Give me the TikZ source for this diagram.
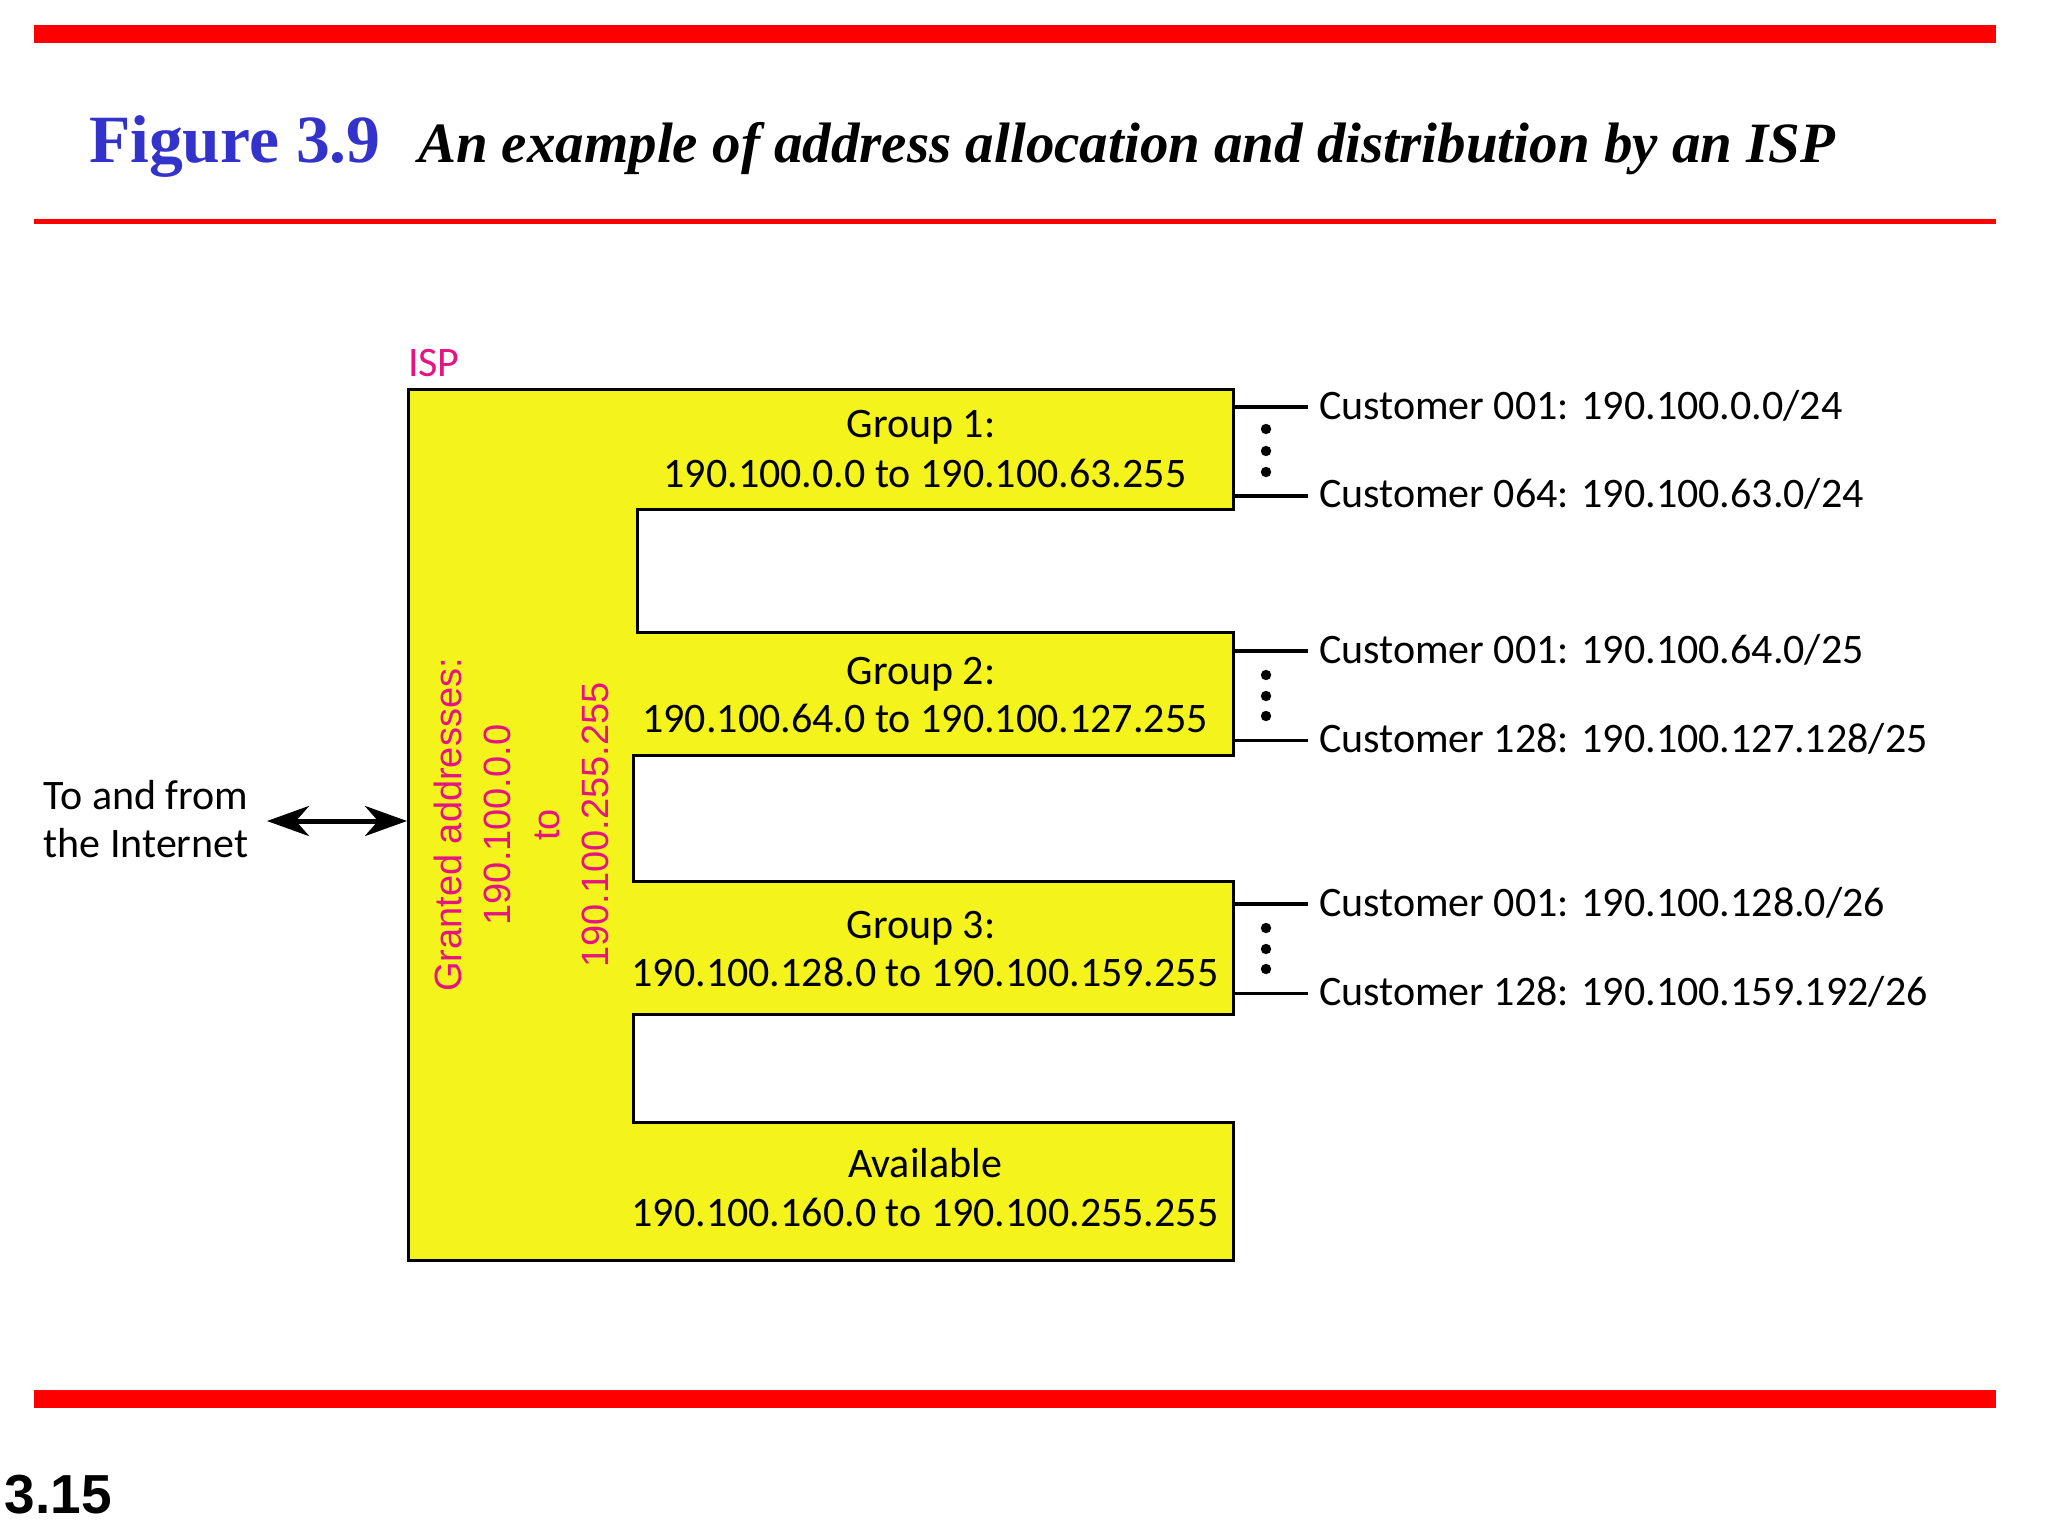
\documentclass[tikz,border=0pt]{standalone}
\usepackage{fontspec}
\setmainfont{Liberation Serif}
\newfontfamily\myr{Carlito}
\newfontfamily\arl{Liberation Sans}
\usetikzlibrary{arrows.meta}
\definecolor{figblue}{RGB}{51,51,204}
\definecolor{ispmag}{RGB}{230,20,130}
\definecolor{ispyel}{RGB}{244,244,28}
\begin{document}
\begin{tikzpicture}[x=1pt,y=-1pt,
  every node/.style={inner sep=0pt,outer sep=0pt},
  lbl/.style={font={\myr\fontsize{42}{50}\selectfont}},
  cust/.style={lbl,anchor=base west},
  grp/.style={lbl,anchor=base},
  redbar/.style={fill=red},
  wire/.style={line width=3.6pt},
  dot/.style={fill=black}]
\useasboundingbox (0,0) rectangle (2048,1536);
% red rules
\fill[redbar] (34,25) rectangle (1996,43);
\fill[redbar] (34,218.5) rectangle (1996,224);
\fill[redbar] (34,1390) rectangle (1996,1408);
% title
\node[anchor=base west,text=figblue,font={\bfseries\fontsize{67.6}{80}\selectfont}] (fignum) at (89,162) {Figure 3.9};
\node[anchor=base west,font={\bfseries\itshape\fontsize{57}{68}\selectfont}] (figtitle) at (418,162) {An example of address allocation and distribution by an ISP};
% ISP shape
\draw[line width=3pt,fill=ispyel,line join=miter]
  (408,389) -- (1233,389) -- (1233,509) -- (637,509) -- (637,632) -- (1233,632)
  -- (1233,755) -- (633,755) -- (633,881) -- (1233,881) -- (1233,1014)
  -- (633,1014) -- (633,1122) -- (1233,1122) -- (1233,1260) -- (408,1260) -- cycle;
\node[anchor=base west,text=ispmag,font={\myr\fontsize{42}{50}\selectfont}] (isp) at (408,376) {ISP};
% vertical label
\node[rotate=90,align=center,text=ispmag,font={\arl\fontsize{38}{49}\selectfont}] (granted) at (521,825)
  {Granted addresses:\\190.100.0.0\\to\\190.100.255.255};
% group texts
\node[grp] (g1a) at (921,437) {Group 1:};
\node[grp] (g1b) at (925,487) {190.100.0.0 to 190.100.63.255};
\node[grp] (g2a) at (921,684) {Group 2:};
\node[grp] (g2b) at (925,732) {190.100.64.0 to 190.100.127.255};
\node[grp] (g3a) at (921,938) {Group 3:};
\node[grp] (g3b) at (925,986) {190.100.128.0 to 190.100.159.255};
\node[grp] (ava) at (925,1177) {Available};
\node[grp] (avb) at (925,1226) {190.100.160.0 to 190.100.255.255};
% internet
\node[grp] (inA) at (146,809) {To and from};
\node[grp] (inB) at (146,857) {the Internet};
\coordinate (arrL) at (267,821);
\coordinate (arrR) at (407,821);
\draw[line width=5pt,{Stealth[length=42pt,width=30pt,inset=13pt]}-{Stealth[length=42pt,width=30pt,inset=13pt]}] (arrL) -- (arrR);
% customers
\foreach \nm/\y in {c1a/407,c1b/496,c2a/651,c2b/740.5,c3a/904,c3b/993.5}{
  \coordinate (\nm s) at (1233,\y);
  \coordinate (\nm e) at (1308,\y);
  \draw[wire] (\nm s) -- (\nm e);
}
\node[cust] (t1a) at (1319,419) {Customer 001: 190.100.0.0/24};
\node[cust] (t1b) at (1319,507) {Customer 064: 190.100.63.0/24};
\node[cust] (t2a) at (1319,663) {Customer 001: 190.100.64.0/25};
\node[cust] (t2b) at (1319,752) {Customer 128: 190.100.127.128/25};
\node[cust] (t3a) at (1319,916) {Customer 001: 190.100.128.0/26};
\node[cust] (t3b) at (1319,1005) {Customer 128: 190.100.159.192/26};
% dots
\foreach \y in {429,451,472,675,696,716,928,949,969}{
  \fill[dot] (1266,\y) circle (5.2);
}
% page number
\node[anchor=base west,font={\arl\bfseries\fontsize{55}{66}\selectfont}] (pgno) at (5,1513) {3.15};
\end{tikzpicture}
\end{document}
